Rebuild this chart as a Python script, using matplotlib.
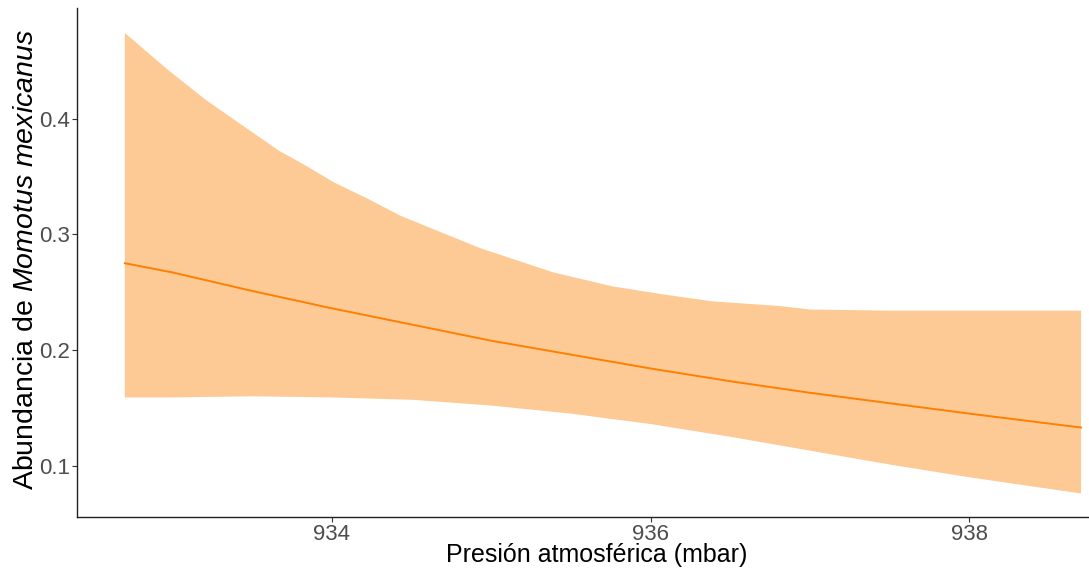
import numpy as np
import matplotlib.pyplot as plt

plt.rcParams['font.family'] = ['Liberation Sans', 'DejaVu Sans']
plt.rcParams['mathtext.fontset'] = 'custom'
plt.rcParams['mathtext.rm'] = 'Liberation Sans'
plt.rcParams['mathtext.it'] = 'Liberation Sans:italic'

# fitted abundance vs. atmospheric pressure
presion = [932.7, 933.0, 933.5, 934.0, 934.5, 935.0, 935.5, 936.0, 936.5, 937.0, 937.5, 938.0, 938.7]
ajuste = [0.275, 0.267, 0.251, 0.236, 0.222, 0.208, 0.196, 0.184, 0.173, 0.163, 0.154, 0.145, 0.133]

# upper confidence limit
presion_sup = [932.70, 932.98, 933.21, 933.47, 933.67, 933.84, 934.01, 934.22, 934.43,
               934.68, 934.93, 935.39, 935.76, 936.08, 936.39, 936.81, 937.00, 937.50,
               938.00, 938.70]
sup = [0.474, 0.441, 0.416, 0.391, 0.372, 0.359, 0.345, 0.331, 0.316,
       0.302, 0.288, 0.267, 0.255, 0.248, 0.242, 0.238, 0.235, 0.234,
       0.234, 0.234]

# lower confidence limit
presion_inf = [932.7, 933.0, 933.5, 934.0, 934.5, 935.0, 935.5, 936.0, 936.5, 937.0, 937.5, 938.0, 938.7]
inf = [0.159, 0.159, 0.160, 0.159, 0.157, 0.152, 0.145, 0.136, 0.125, 0.113, 0.101, 0.090, 0.076]

xticks = [934, 936, 938]
yticks = [0.1, 0.2, 0.3, 0.4]

fig = plt.figure(figsize=(10.89, 5.75), dpi=100)
ax = fig.add_axes([0.0707, 0.1009, 0.9293, 0.8851])

# confidence band as a closed polygon, then the fitted curve on top
ax.fill(np.concatenate([presion_sup, presion_inf[::-1]]),
        np.concatenate([sup, inf[::-1]]),
        color='#FDCA96', linewidth=0)
ax.plot(presion, ajuste, color='#FF7F00', linewidth=1.4)

ax.set_xlim(932.40, 938.75)
ax.set_ylim(0.0557, 0.4955)
ax.set_xticks(xticks)
ax.set_yticks(yticks)
ax.set_xticklabels([str(t) for t in xticks])
ax.set_yticklabels([f'{t:.1f}' for t in yticks])

for s in ['top', 'right']:
    ax.spines[s].set_visible(False)
for s in ['left', 'bottom']:
    ax.spines[s].set_color('#222222')
    ax.spines[s].set_linewidth(1.0)

ax.tick_params(axis='both', colors='#333333', labelcolor='#4D4D4D',
               labelsize=16, length=3.5, width=0.8, pad=1.5)

fig.text(597 / 1089, 1 - 562 / 575, 'Presión atmosférica (mbar)', fontsize=18,
         color='black', ha='center', va='baseline')
fig.text(33 / 1089, 1 - 260 / 575, r'Abundancia de $\mathit{Momotus\ mexicanus}$',
         fontsize=20.5, color='black', rotation=90, rotation_mode='anchor',
         ha='center', va='baseline')

fig.savefig('out.png', dpi=100)
